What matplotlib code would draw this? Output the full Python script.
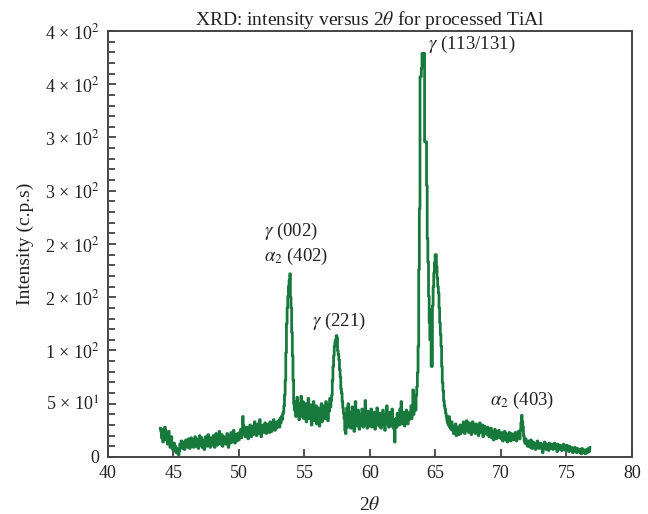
import numpy as np
import matplotlib
matplotlib.use("Agg")
import matplotlib.pyplot as plt
from matplotlib.ticker import MultipleLocator

plt.rcParams['font.family'] = ['Liberation Serif', 'DejaVu Serif']
plt.rcParams['mathtext.fontset'] = 'stix'

# 2theta grid: 44.00 .. 76.80 in 0.05 steps (one row of values per degree)
two_theta_start = 44.0
two_theta_step = 0.05

intensity_rows = [
    # 44
    [27, 24, 18, 26, 14, 22, 17, 28, 25, 16, 20, 12, 18, 24, 15, 9, 14, 19, 11, 7],
    # 45
    [9, 13, 6, 10, 4, 8, 5, 3, 2, 6, 12, 9, 15, 11, 8, 14, 10, 7, 13, 16],
    # 46
    [11, 15, 9, 17, 12, 8, 14, 18, 10, 13, 16, 9, 12, 19, 14, 10, 17, 13, 8, 15],
    # 47
    [20, 14, 11, 18, 9, 15, 12, 7, 16, 19, 13, 10, 17, 21, 12, 15, 9, 18, 14, 11],
    # 48
    [16, 20, 13, 9, 17, 22, 15, 11, 19, 14, 24, 18, 12, 16, 21, 10, 15, 19, 13, 17],
    # 49
    [12, 18, 22, 15, 9, 20, 16, 13, 23, 18, 14, 20, 25, 17, 13, 21, 18, 15, 22, 19],
    # 50
    [16, 23, 20, 26, 18, 22, 38, 30, 21, 25, 19, 24, 28, 20, 17, 26, 22, 30, 25, 19],
    # 51
    [24, 29, 21, 26, 33, 23, 28, 20, 25, 31, 22, 27, 35, 24, 19, 28, 25, 30, 23, 27],
    # 52
    [32, 26, 22, 29, 25, 31, 27, 23, 33, 28, 24, 30, 26, 35, 29, 25, 31, 27, 33, 28],
    # 53
    [30, 34, 28, 36, 32, 38, 35, 40, 42, 48, 58, 72, 98, 125, 140, 151, 160, 166, 172, 150],
    # 54
    [140, 117, 95, 72, 50, 44, 52, 38, 46, 56, 40, 48, 35, 50, 42, 57, 38, 45, 52, 36],
    # 55
    [44, 39, 50, 33, 47, 41, 55, 36, 43, 38, 49, 30, 45, 40, 52, 34, 42, 37, 48, 31],
    # 56
    [40, 35, 46, 29, 42, 38, 50, 33, 44, 37, 48, 41, 36, 52, 39, 45, 34, 49, 43, 55],
    # 57
    [47, 53, 58, 72, 85, 95, 104, 108, 110, 114, 112, 100, 96, 91, 82, 75, 64, 60, 52, 46],
    # 58
    [41, 36, 25, 22, 33, 46, 28, 50, 38, 31, 42, 27, 36, 47, 30, 40, 24, 35, 52, 33],
    # 59
    [38, 29, 44, 31, 26, 40, 35, 30, 45, 33, 28, 41, 36, 53, 30, 39, 27, 43, 34, 29],
    # 60
    [37, 32, 45, 28, 40, 35, 30, 42, 26, 38, 33, 46, 31, 36, 29, 41, 34, 27, 39, 32],
    # 61
    [44, 30, 36, 25, 40, 33, 48, 31, 37, 28, 42, 35, 29, 38, 45, 32, 27, 35, 14, 30],
    # 62
    [36, 28, 41, 33, 38, 30, 45, 35, 52, 31, 39, 34, 42, 29, 37, 33, 44, 36, 31, 40],
    # 63
    [35, 42, 38, 48, 36, 48, 63, 40, 45, 50, 44, 58, 66, 79, 104, 176, 233, 357, 357, 365],
    # 64
    [379, 379, 379, 379, 296, 296, 296, 255, 205, 183, 151, 126, 110, 138, 85, 85, 142, 160, 173, 182],
    # 65
    [190, 190, 179, 168, 160, 154, 140, 126, 115, 104, 85, 70, 62, 53, 48, 45, 41, 38, 34, 32],
    # 66
    [30, 38, 28, 32, 26, 33, 25, 29, 22, 27, 24, 31, 20, 26, 23, 28, 21, 25, 30, 22],
    # 67
    [24, 30, 26, 33, 28, 22, 31, 27, 34, 25, 29, 23, 32, 26, 30, 21, 28, 33, 24, 27],
    # 68
    [29, 22, 31, 26, 24, 30, 20, 27, 32, 23, 28, 25, 30, 19, 26, 29, 22, 27, 24, 21],
    # 69
    [28, 23, 19, 25, 21, 27, 18, 24, 22, 16, 23, 26, 20, 17, 24, 21, 19, 25, 18, 22],
    # 70
    [20, 17, 23, 15, 21, 19, 24, 16, 22, 18, 14, 21, 17, 23, 19, 15, 22, 18, 20, 16],
    # 71
    [21, 17, 23, 19, 15, 22, 18, 24, 20, 17, 25, 32, 39, 33, 28, 20, 15, 13, 17, 12],
    # 72
    [14, 10, 15, 11, 13, 9, 16, 12, 8, 14, 11, 10, 13, 7, 12, 9, 15, 11, 8, 12],
    # 73
    [10, 13, 8, 11, 4, 12, 9, 14, 10, 7, 12, 9, 11, 6, 13, 10, 8, 12, 9, 11],
    # 74
    [7, 10, 13, 8, 11, 9, 5, 12, 8, 10, 7, 11, 9, 6, 10, 8, 12, 7, 9, 6],
    # 75
    [8, 11, 7, 9, 5, 10, 8, 6, 9, 7, 4, 8, 6, 9, 5, 7, 4, 8, 6, 5],
    # 76
    [7, 4, 6, 3, 8, 5, 7, 4, 6, 3, 5, 7, 4, 6, 8, 5, 9],
]

x_ticks = [40, 45, 50, 55, 60, 65, 70, 75, 80]
y_ticks = [0, 50, 100, 150, 200, 250, 300, 350, 400]
y_tick_labels = ['0', '5 \u00d7 10$^{1}$', '1 \u00d7 10$^{2}$', '2 \u00d7 10$^{2}$',
                 '2 \u00d7 10$^{2}$', '3 \u00d7 10$^{2}$', '3 \u00d7 10$^{2}$',
                 '4 \u00d7 10$^{2}$', '4 \u00d7 10$^{2}$']

peak_labels = [r'$\gamma$ (002)', r'$\alpha_2$ (402)', r'$\gamma$ (221)',
               r'$\gamma$ (113/131)', r'$\alpha_2$ (403)']
peak_label_x = [51.9, 51.9, 55.6, 64.45, 69.2]
peak_label_y = [212, 188, 127, 387, 53]

intensity = np.array([v for row in intensity_rows for v in row], dtype=float)
two_theta = two_theta_start + two_theta_step * np.arange(len(intensity))

fig = plt.figure(figsize=(6.48, 5.14), dpi=100)
ax = fig.add_axes([0.1667, 0.111, 0.8083, 0.8287])

ax.plot(two_theta, intensity, color='#177a3c', lw=2.0, drawstyle='steps-mid')

ax.set_xlim(40, 80)
ax.set_ylim(0, 400)
ax.set_xticks(x_ticks)
ax.set_yticks(y_ticks)
ax.set_yticklabels(y_tick_labels)
ax.yaxis.set_minor_locator(MultipleLocator(10))
ax.tick_params(axis='both', which='both', direction='in', top=False, right=False,
               colors='#333333', labelcolor='#222222', labelsize=13, width=1.2)
ax.tick_params(axis='both', which='major', length=6, pad=6)
ax.tick_params(axis='y', which='minor', length=5)
for s in ax.spines.values():
    s.set_color('#444444')
    s.set_linewidth(1.4)

ax.set_title(r'XRD: intensity versus 2$\theta$ for processed TiAl', fontsize=14,
             color='#222222', pad=4)
ax.set_xlabel(r'2$\theta$', fontsize=14, color='#222222', labelpad=10)
ax.set_ylabel('Intensity (c.p.s)', fontsize=14, color='#222222', labelpad=8)

for lab, lx, ly in zip(peak_labels, peak_label_x, peak_label_y):
    ax.text(lx, ly, lab, fontsize=13.5, color='#222222', ha='left', va='center')

fig.savefig('out.png', dpi=100)
